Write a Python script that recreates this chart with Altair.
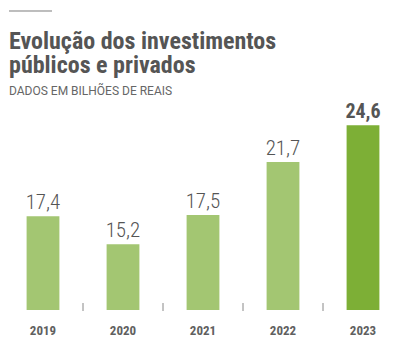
import altair as alt
import pandas as pd

years = ["2019", "2020", "2021", "2022", "2023"]
values = [17.4, 15.2, 17.5, 21.7, 24.6]
labels = ["17,4", "15,2", "17,5", "21,7", "24,6"]
highlight = [False, False, False, False, True]
tick_years = ["2020", "2021", "2022", "2023"]

df = pd.DataFrame({"ano": years, "valor": values, "rotulo": labels, "destaque": highlight})
ticks = pd.DataFrame({"ano": tick_years})

COND = "Roboto Condensed, Liberation Sans Narrow, DejaVu Sans Condensed, Roboto, sans-serif"

x = alt.X("ano:N", sort=years,
          scale=alt.Scale(paddingInner=0, paddingOuter=0),
          axis=alt.Axis(title=None, labelAngle=0, domain=False, ticks=False,
                        labelFont=COND, labelFontWeight="bold", labelFontSize=13,
                        labelColor="#606060", labelPadding=20, labelBaseline="middle"))
y = alt.Y("valor:Q", scale=alt.Scale(domain=[10, 34.5], nice=False, zero=False), axis=None)

bars = alt.Chart(df).mark_bar(width=alt.RelativeBandSize(0.41)).encode(
    x=x, y=y,
    y2=alt.datum(10),
    color=alt.Color("destaque:N", scale=alt.Scale(domain=[False, True], range=["#a3c672", "#7daf36"]), legend=None),
)

txt_normal = alt.Chart(df).transform_filter("!datum.destaque").mark_text(
    font=COND, fontSize=21, fontWeight=300, color="#555555", baseline="alphabetic", dy=-7
).encode(x=x, y=y, text="rotulo:N")

txt_bold = alt.Chart(df).transform_filter("datum.destaque").mark_text(
    font=COND, fontSize=20, fontWeight="bold", color="#555555", baseline="alphabetic", dy=-7
).encode(x=x, y=y, text="rotulo:N")

tick_rules = alt.Chart(ticks).mark_rule(color="#888888", strokeWidth=1).encode(
    x=alt.X("ano:N", sort=years, bandPosition=0), y=alt.value(303), y2=alt.value(311)
)

top_rule = alt.Chart(df).mark_rule(color="#bbbbbb", strokeWidth=1).encode(
    x=alt.value(6), x2=alt.value(49), y=alt.value(11)
)

chart = alt.layer(top_rule, bars, tick_rules, txt_normal, txt_bold).properties(
    width=400, height=310,
    autosize=alt.AutoSizeParams(type="none"),
    padding={"left": 3, "top": 0, "right": 1, "bottom": 37},
    title=alt.TitleParams(
        text=["Evolução dos investimentos", "públicos e privados"],
        subtitle="DADOS EM BILHÕES DE REAIS",
        anchor="start", frame="group", orient="top",
        offset=-97, dx=6,
        font=COND, fontSize=24, fontWeight="bold", color="#555555", lineHeight=24,
        subtitleFont="Roboto, sans-serif", subtitleFontSize=12, subtitleColor="#666666",
        subtitlePadding=8,
    ),
).configure_view(stroke=None)

chart.save("out.html", embed_options={"renderer": "svg", "actions": False})
